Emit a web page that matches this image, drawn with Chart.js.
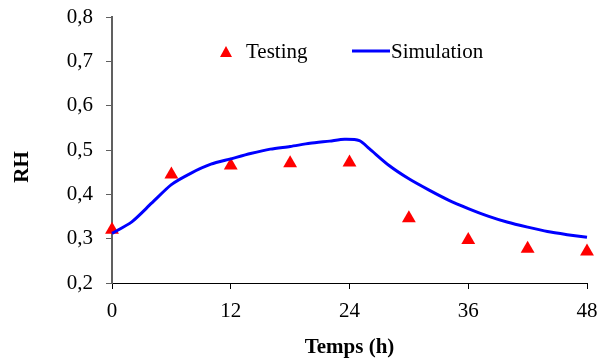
<!DOCTYPE html>
<html>
<head>
<meta charset="utf-8">
<script src="https://cdn.jsdelivr.net/npm/chart.js@4/dist/chart.umd.min.js"></script>
<style>
  html, body { margin: 0; padding: 0; background: #fff; }
  #wrap { width: 606px; height: 358px; }
</style>
</head>
<body>
<div id="wrap"><canvas id="myChart" width="606" height="358"></canvas></div>
<script>
// measured points
let testHours = [0, 6, 12, 18, 24, 30, 36, 42, 48];
let testRH = [0.32, 0.445, 0.465, 0.47, 0.472, 0.346, 0.297, 0.277, 0.271];

// simulated curve
let simHours = [0, 2, 4, 6, 8, 10, 12, 14, 16, 18, 20, 22, 23.5, 25, 26, 28, 30, 32, 34, 36, 38, 40, 42, 44, 46, 48];
let simRH = [0.312, 0.338, 0.38, 0.422, 0.448, 0.468, 0.48, 0.492, 0.502, 0.508, 0.515, 0.52, 0.524, 0.521, 0.503, 0.465, 0.435, 0.41, 0.387, 0.368, 0.351, 0.337, 0.326, 0.316, 0.309, 0.303];

let xTicks = [0, 12, 24, 36, 48];
let yTicks = [0.2, 0.3, 0.4, 0.5, 0.6, 0.7, 0.8];

Chart.defaults.font.family = "'Liberation Serif', 'Times New Roman', serif";
Chart.defaults.color = '#000';

// legend and y title drawn inside the plot like the original
const extras = {
  id: 'extras',
  afterDraw(c) {
    const ctx = c.ctx;
    ctx.save();
    // triangle marker
    ctx.fillStyle = '#ff0000';
    ctx.beginPath();
    ctx.moveTo(226, 46);
    ctx.lineTo(232, 57);
    ctx.lineTo(220, 57);
    ctx.closePath();
    ctx.fill();
    // line sample
    ctx.strokeStyle = '#0000ff';
    ctx.lineWidth = 3;
    ctx.beginPath();
    ctx.moveTo(352, 51);
    ctx.lineTo(390, 51);
    ctx.stroke();
    ctx.fillStyle = '#000';
    ctx.font = "21px 'Liberation Serif'";
    ctx.textBaseline = 'alphabetic';
    ctx.fillText('Testing', 246, 58);
    ctx.fillText('Simulation', 391, 58);
    // y title
    ctx.font = "bold 21px 'Liberation Serif'";
    ctx.translate(23, 167);
    ctx.rotate(-Math.PI / 2);
    ctx.textAlign = 'center';
    ctx.textBaseline = 'middle';
    ctx.fillText('RH', 0, 0);
    ctx.restore();
  }
};

let myChart = document.getElementById('myChart').getContext('2d');

let chart = new Chart(myChart, {
  type: 'scatter',
  data: {
    datasets: [{
      label: 'Simulation',
      data: simHours.map((h, i) => ({ x: h, y: simRH[i] })),
      showLine: true,
      borderColor: '#0000ff',
      borderWidth: 3,
      pointRadius: 0,
      tension: 0.25,
      clip: false
    }, {
      label: 'Testing',
      data: testHours.map((h, i) => ({ x: h, y: testRH[i] })),
      pointStyle: 'triangle',
      pointRadius: 8,
      backgroundColor: '#ff0000',
      borderColor: '#ff0000',
      borderWidth: 0,
      clip: false
    }]
  },
  options: {
    responsive: false,
    animation: false,
    layout: { padding: { top: 17, right: 19, bottom: 0, left: 0 } },
    plugins: {
      legend: { display: false },
      tooltip: { enabled: false }
    },
    scales: {
      x: {
        type: 'linear',
        min: 0,
        max: 48,
        afterBuildTicks: (s) => { s.ticks = xTicks.map(v => ({ value: v })); },
        afterFit: (s) => { s.height = 75; s.paddingLeft = 0; s.paddingRight = 0; },
        ticks: { font: { size: 21 }, padding: 10 },
        grid: { display: true, drawOnChartArea: false, drawTicks: true, tickLength: 6, color: '#000' },
        border: { display: true, color: '#000', width: 1 },
        title: { display: true, text: 'Temps (h)', font: { size: 21, weight: 'bold' }, padding: { top: 0, bottom: -2 } }
      },
      y: {
        min: 0.2,
        max: 0.8,
        afterBuildTicks: (s) => { s.ticks = yTicks.map(v => ({ value: v })); },
        afterFit: (s) => { s.width = 112; s.paddingTop = 0; s.paddingBottom = 0; },
        ticks: {
          font: { size: 21 },
          padding: 13,
          callback: (v) => v.toFixed(1).replace('.', ',')
        },
        grid: { display: true, drawOnChartArea: false, drawTicks: true, tickLength: 6, color: '#606060' },
        border: { display: true, color: '#606060', width: 2 }
      }
    }
  },
  plugins: [extras]
});
</script>
</body>
</html>
